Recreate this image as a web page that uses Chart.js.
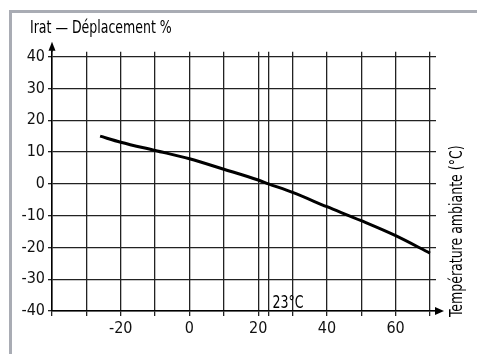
<!DOCTYPE html>
<html>
<head>
<meta charset="utf-8">
<script src="https://cdn.jsdelivr.net/npm/chart.js@4"></script>
<style>
  body{margin:0;background:#fff;}
  #frame{position:absolute;left:9px;top:10px;right:0;bottom:0;border-top:3px solid #a9acb4;border-left:3px solid #a9acb4;}
  #wrap{position:absolute;left:0;top:0;width:477px;height:354px;}
</style>
</head>
<body>
<div id="frame"></div>
<div id="wrap"><canvas id="derive"></canvas></div>
<script>
// curve
var tempC    = [-26, -20, -10, 0, 10, 20, 23, 30, 40, 50, 60, 70];
var shiftPct = [15, 13.1, 10.5, 7.9, 4.6, 1.2, 0, -2.7, -7.2, -11.6, -16.3, -21.8];

var xGrid   = [-40, -30, -20, -10, 0, 10, 20, 23, 30, 40, 50, 60, 70];
var xLabels = [-20, 0, 20, 40, 60];
var yGrid   = [-40, -30, -20, -10, 0, 10, 20, 30, 40];

var yTitle = 'Irat \u2014 D\u00e9placement %';
var xTitle = 'Temp\u00e9rature ambiante (\u00b0C)';
var refLabel = '23\u00b0C';

var FONT = '"Liberation Sans Narrow", "DejaVu Sans Condensed", sans-serif';

var pts = [];
for (var i = 0; i < tempC.length; i++) pts.push({x: tempC[i], y: shiftPct[i]});

// narrow text, the original uses a condensed face
function narrowText(c, txt, x, y){
  c.save(); c.translate(x, y); c.scale(0.82, 1); c.fillText(txt, 0, 0); c.restore();
}

var extras = {
  id: 'extras',
  afterDraw: function(chart){
    var c = chart.ctx, a = chart.chartArea;
    var xs = chart.scales.x, ys = chart.scales.y;
    var x0 = xs.getPixelForValue(-40), y0 = ys.getPixelForValue(-40);
    c.save();
    c.strokeStyle = '#000'; c.fillStyle = '#000'; c.lineWidth = 1.5;
    // y arrow
    c.beginPath(); c.moveTo(x0, a.top); c.lineTo(x0, a.top - 4); c.stroke();
    c.beginPath(); c.moveTo(x0, a.top - 10); c.lineTo(x0 - 3.5, a.top - 1); c.lineTo(x0 + 3.5, a.top - 1); c.closePath(); c.fill();
    // x arrow
    c.beginPath(); c.moveTo(a.right, y0); c.lineTo(a.right + 2, y0); c.stroke();
    c.beginPath(); c.moveTo(a.right + 8, y0); c.lineTo(a.right - 1, y0 - 4); c.lineTo(a.right - 1, y0 + 4); c.closePath(); c.fill();
    // texts
    c.font = '17px ' + FONT;
    c.textBaseline = 'alphabetic'; c.textAlign = 'left';
    narrowText(c, yTitle, 30, 33);
    narrowText(c, refLabel, xs.getPixelForValue(23) + 4, y0 - 3);
    c.translate(462, 317);
    c.rotate(-Math.PI / 2);
    narrowText(c, xTitle, 0, 0);
    c.restore();
  }
};

var ctx = document.getElementById('derive');
var chart = new Chart(ctx, {
  type: 'scatter',
  data: {
    datasets: [{
      data: pts,
      showLine: true,
      borderColor: '#000',
      borderWidth: 3,
      pointRadius: 0,
      cubicInterpolationMode: 'monotone'
    }]
  },
  options: {
    responsive: true,
    maintainAspectRatio: false,
    animation: false,
    layout: {padding: {left: 0, top: 51.7, right: 41, bottom: 0}},
    plugins: {legend: {display: false}, tooltip: {enabled: false}},
    scales: {
      x: {
        type: 'linear', min: -40, max: 71.75,
        afterBuildTicks: function(s){ s.ticks = xGrid.map(function(v){ return {value: v}; }); },
        afterFit: function(s){ s.height = 43; },
        grid: {color: '#222', lineWidth: 1.3, tickLength: 5, tickColor: '#222'},
        border: {color: '#000', width: 1.5},
        ticks: {
          color: '#111', padding: 3, maxRotation: 0, autoSkip: false,
          font: {family: FONT, size: 16},
          callback: function(v){ return xLabels.indexOf(v) >= 0 ? String(v) : ''; }
        }
      },
      y: {
        type: 'linear', min: -40, max: 41.57,
        afterBuildTicks: function(s){ s.ticks = yGrid.map(function(v){ return {value: v}; }); },
        afterFit: function(s){ s.width = 52; },
        grid: {color: '#222', lineWidth: 1.3, tickLength: 4, tickColor: '#222'},
        border: {color: '#000', width: 1.5},
        ticks: {color: '#111', padding: 3, font: {family: FONT, size: 16}}
      }
    }
  },
  plugins: [extras]
});
</script>
</body>
</html>
